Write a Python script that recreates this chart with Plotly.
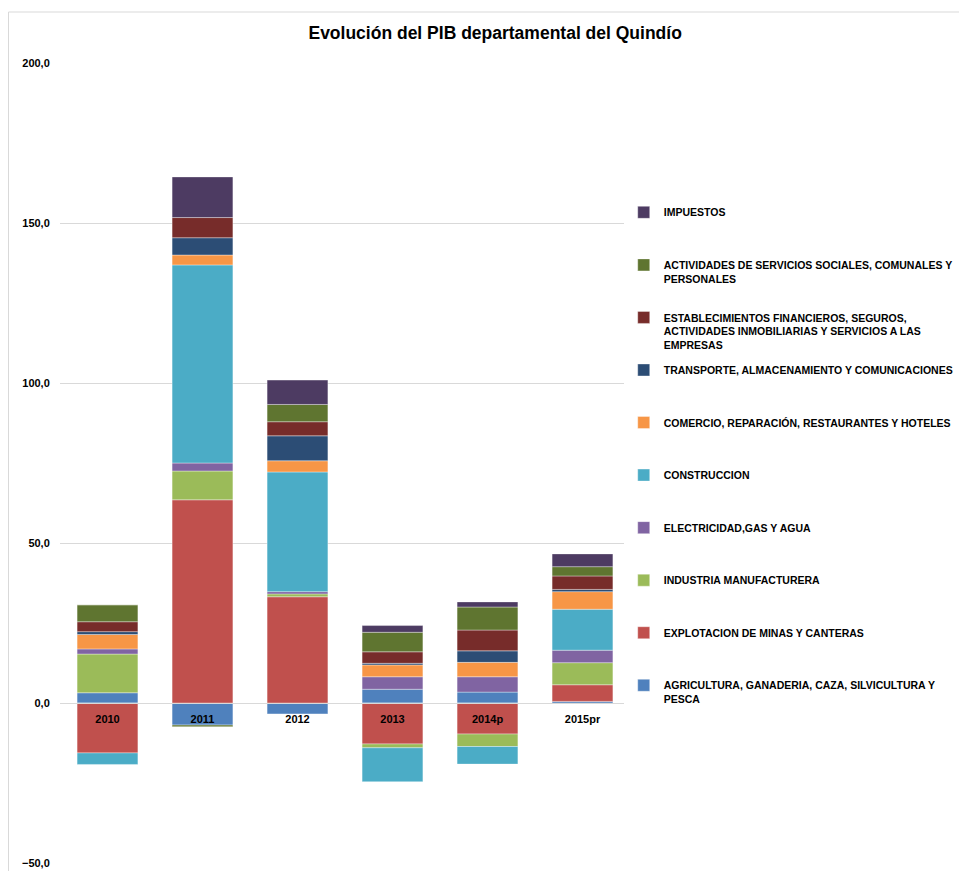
import plotly.graph_objects as go

# -----------------------------------------------------------
# Datos
# -----------------------------------------------------------
years = ["2010", "2011", "2012", "2013", "2014p", "2015pr"]

sectors = [
    "AGRICULTURA, GANADERIA, CAZA, SILVICULTURA Y<br>PESCA",
    "EXPLOTACION DE MINAS Y CANTERAS",
    "INDUSTRIA MANUFACTURERA",
    "ELECTRICIDAD,GAS Y AGUA",
    "CONSTRUCCION",
    "COMERCIO, REPARACIÓN, RESTAURANTES Y HOTELES",
    "TRANSPORTE, ALMACENAMIENTO Y COMUNICACIONES",
    "ESTABLECIMIENTOS FINANCIEROS, SEGUROS,<br>ACTIVIDADES INMOBILIARIAS Y SERVICIOS A LAS<br>EMPRESAS",
    "ACTIVIDADES DE SERVICIOS SOCIALES, COMUNALES Y<br>PERSONALES",
    "IMPUESTOS",
]

agricultura  = [3.2, -6.9, -3.4, 4.3, 3.4, 0.5]
minas        = [-15.6, 63.5, 33.2, -12.8, -9.7, 5.2]
industria    = [12.1, 9.0, 0.9, -1.2, -3.9, 6.9]
electricidad = [1.6, 2.5, 0.7, 3.9, 4.8, 3.9]
construccion = [-3.6, 61.9, 37.4, -10.6, -5.5, 12.8]
comercio     = [4.5, 3.1, 3.5, 3.7, 4.5, 5.5]
transporte   = [0.9, 5.4, 7.8, 0.5, 3.6, 0.7]
financieros  = [3.1, 6.3, 4.4, 3.6, 6.5, 4.2]
servicios    = [5.3, -0.5, 5.4, 6.1, 7.2, 2.9]
impuestos    = [0.0, 12.7, 7.6, 2.1, 1.6, 4.0]

series = [agricultura, minas, industria, electricidad, construccion,
          comercio, transporte, financieros, servicios, impuestos]

colors = ["#4F81BD", "#C0504D", "#9BBB59", "#8064A2", "#4BACC6",
          "#F79646", "#2C4D75", "#772C2A", "#5F7530", "#4D3B62"]

# -----------------------------------------------------------
# Figura
# (la página tiene 8 px de margen, así que la figura es 959x863)
# -----------------------------------------------------------
fig = go.Figure()

n = len(sectors)
for i, (name, vals) in enumerate(zip(sectors, series)):
    # rellenar cada entrada de la leyenda a 3 líneas para espaciado uniforme
    n_lines = name.count("<br>") + 1
    label = name + "<br>\u00a0" * (3 - n_lines)
    fig.add_trace(go.Bar(
        x=years,
        y=vals,
        name=label,
        legendgroup=str(i),
        legendrank=n - i,
        marker=dict(color=colors[i], line=dict(color="rgba(255,255,255,0.6)", width=0.6)),
    ))

fig.update_layout(
    width=959,
    height=863,
    barmode="relative",
    bargap=0.36,
    plot_bgcolor="white",
    paper_bgcolor="white",
    font=dict(family="Liberation Sans", color="#000000"),
    separators=",.",
    title=dict(
        text="<b>Evolución del PIB departamental del Quindío</b>",
        x=0.508, xanchor="center", y=0.971, yanchor="middle",
        font=dict(size=17.5, color="#000000"),
    ),
    margin=dict(l=52, r=337, t=55, b=8, autoexpand=False),
    legend=dict(
        x=0.989, xanchor="left",
        y=0.83, yanchor="top",
        traceorder="grouped",
        tracegroupgap=8.6,
        valign="top",
        font=dict(size=10.5, color="#000000", weight="bold"),
        itemwidth=30,
    ),
    xaxis=dict(
        type="category",
        anchor="free",
        position=0.2,
        automargin=False,
        showline=True,
        linecolor="#d9d9d9",
        ticks="outside",
        ticklen=0,
        ticklabelstandoff=6,
        tickfont=dict(size=11, color="#000000", weight="bold"),
        showgrid=False,
    ),
    yaxis=dict(
        range=[-50, 200],
        dtick=50,
        tickformat=".1f",
        automargin=False,
        showgrid=True,
        gridcolor="#d9d9d9",
        zeroline=True,
        zerolinecolor="#d9d9d9",
        zerolinewidth=1,
        ticks="outside",
        ticklen=0,
        ticklabelstandoff=7,
        tickfont=dict(size=11, color="#000000", weight="bold"),
    ),
    shapes=[dict(
        type="rect", xref="paper", yref="paper",
        x0=(0.5 - 52) / 570, x1=(959 - 52) / 570 + 0.1,
        y0=-0.2, y1=(855 - 4) / 800,
        line=dict(color="#d9d9d9", width=1),
        fillcolor="rgba(0,0,0,0)",
        layer="below",
    )],
)

fig.write_html("out.html")
